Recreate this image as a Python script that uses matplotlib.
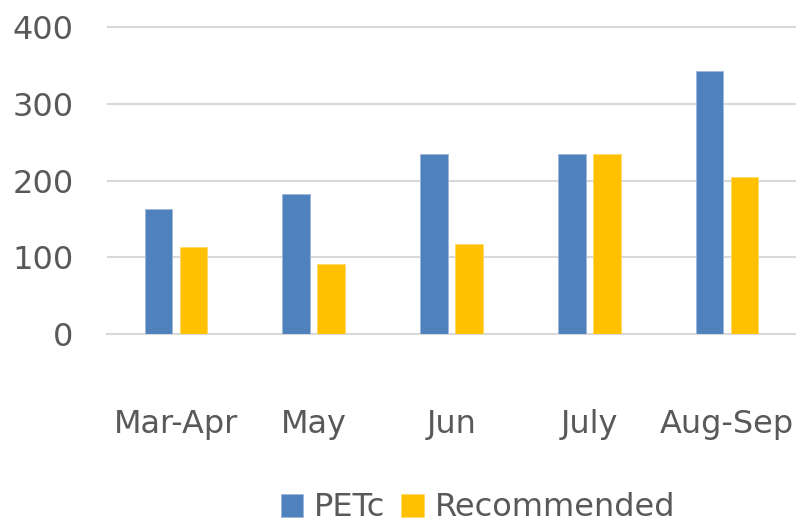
import matplotlib
matplotlib.use("Agg")
import matplotlib.pyplot as plt
import numpy as np

# Data
periods = ["Mar-Apr", "May", "Jun", "July", "Aug-Sep"]
petc = [163, 183, 235, 235, 342]
recommended = [114, 92, 117, 235, 205]
y_ticks = [0, 100, 200, 300, 400]

blue = "#4F81BD"
gold = "#FFC000"
text_gray = "#595959"
grid_gray = "#D9D9D9"

plt.rcParams['font.family'] = ['DejaVu Sans']

fig = plt.figure(figsize=(7.96, 5.23), dpi=100)
ax = fig.add_axes([0.1344, 0.3608, 1.0 - 0.1344, 0.9563 - 0.3608])

x = np.arange(len(periods))
bar_w = 0.2
offset = 0.127
ax.bar(x - offset, petc, bar_w, color=blue, edgecolor="#9DB6DA", linewidth=0.6, label="PETc", zorder=3)
ax.bar(x + offset, recommended, bar_w, color=gold, edgecolor="#FFD966", linewidth=0.6, label="Recommended", zorder=3)

ax.set_xlim(-0.5, 4.5)
ax.set_ylim(0, 405)
ax.set_yticks(y_ticks)
ax.set_yticklabels([str(v) for v in y_ticks])
ax.set_xticks(x)
ax.set_xticklabels(periods)

ax.grid(axis="y", color=grid_gray, linewidth=1.5, zorder=0)
for side in ["left", "right", "top"]:
    ax.spines[side].set_visible(False)
ax.spines["bottom"].set_color(grid_gray)
ax.spines["bottom"].set_linewidth(1.5)
ax.spines["bottom"].set_zorder(1)

ax.tick_params(axis="y", length=0, pad=24, labelsize=23, labelcolor=text_gray)
ax.tick_params(axis="x", length=0, pad=54, labelsize=23, labelcolor=text_gray)

fig.legend(loc="center", bbox_to_anchor=(478 / 796, 1 - 508 / 523), ncol=2, frameon=False,
           fontsize=23, labelcolor=text_gray, handlelength=0.7, handleheight=0.7,
           handletextpad=0.35, columnspacing=0.5)

fig.savefig("out.png", dpi=100)
